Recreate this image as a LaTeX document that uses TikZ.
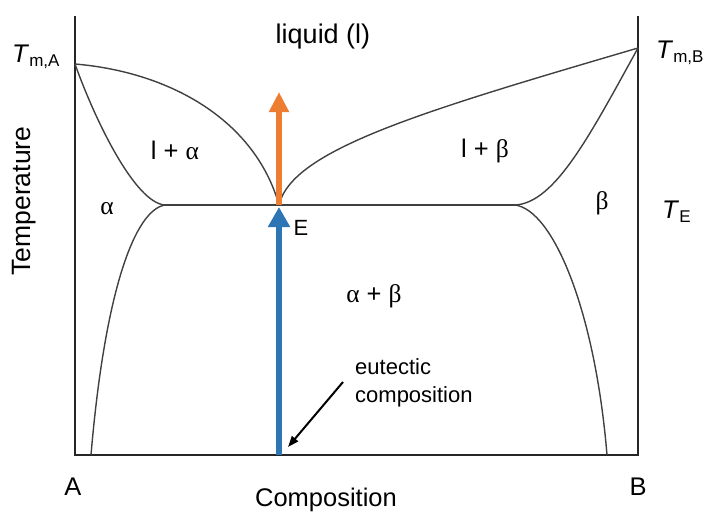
\documentclass[tikz,border=0pt]{standalone}
\usepackage{fontspec}
\setmainfont{Liberation Sans}
\newfontfamily\grk{Liberation Serif}
\usepackage{tikz}
\usetikzlibrary{arrows.meta,positioning,calc}
\definecolor{eublue}{HTML}{2E75B6}
\definecolor{euorange}{HTML}{ED7D31}

% subscripted temperature label
\newcommand{\Tlab}[1]{\textit{T}\raisebox{-0.35ex}{\fontsize{17}{17}\selectfont #1}}

\begin{document}
\begin{tikzpicture}[x=1pt,y=-1pt,
    lbl/.style={font=\fontsize{25.5}{30}\selectfont},
    small/.style={font=\fontsize{22}{28}\selectfont},
    axisline/.style={line width=2.6pt,black!85},
    phaseline/.style={line width=1.4pt,black!75},
    heat/.style={line width=6pt,euorange,-{Triangle[length=20pt,width=19pt]}},
    cool/.style={line width=6pt,eublue,-{Triangle[length=20pt,width=21pt]}}]
  \useasboundingbox (0,0) rectangle (705,515);
  % corners and invariant points
  \coordinate (TL) at (75,16);
  \coordinate (TR) at (638,16);
  \coordinate (BL) at (75,455);
  \coordinate (BR) at (638,455);
  \coordinate (TmA) at (75,64);
  \coordinate (TmB) at (638,48);
  \coordinate (E) at (279,205);
  \coordinate (aE) at (165,205);
  \coordinate (bE) at (515,205);
  \coordinate (xE) at (279,455);
  \coordinate (top) at (279,92);
  % frame
  \draw[axisline] (TL) -- (BL) -- (BR) -- (TR);
  % liquidus
  \draw[phaseline] (TmA) .. controls (170,72) and (255,120) .. (E);
  \draw[phaseline] (E) .. controls (292,150) and (420,112) .. (TmB);
  % solidus
  \draw[phaseline] (TmA) .. controls (95,120) and (135,203) .. (aE);
  \draw[phaseline] (TmB) .. controls (590,135) and (555,203) .. (bE);
  % solvus
  \draw[phaseline] (aE) .. controls (135,210) and (105,290) .. (91,455);
  \draw[phaseline] (bE) .. controls (553,210) and (595,310) .. (607,455);
  % eutectic line
  \draw[phaseline] (aE) -- (bE);
  % arrows through E
  \draw[heat] (E) -- (top);
  \draw[cool] (xE) -- ([yshift=-2pt]E);
  % labels
  \node[lbl,font=\fontsize{27}{30}\selectfont] (liq) at (323,37) {liquid (l)};
  \node[lbl] (la) at (175,150) {l + {\grk α}};
  \node[lbl] (lb) at (485,151) {l + {\grk β}};
  \node[lbl] (alpha) at (107,209) {\grk α};
  \node[lbl] (beta) at (602,203) {\grk β};
  \node[lbl] (ab) at (374,296) {{\grk α} + {\grk β}};
  \node[small] (Elab) at (301,228) {E};
  \node[small,anchor=base west,align=left,inner sep=0pt] (eut) at (355,402)
    {eutectic\\composition};
  \coordinate (pfrom) at (343,382);
  \coordinate (pto) at (288,447);
  \draw[line width=2pt,-{Triangle[length=11pt,width=8pt]}] (pfrom) -- (pto);
  \node[lbl,anchor=base west,inner sep=0pt] (tma) at (12,62) {\Tlab{m,A}};
  \node[lbl,anchor=base west,inner sep=0pt] (tmb) at (656,58) {\Tlab{m,B}};
  \node[lbl,anchor=base west,inner sep=0pt] (te) at (662,218) {\Tlab{E}};
  \node[lbl,rotate=90,font=\fontsize{26.5}{30}\selectfont] (temp) at (24,201) {Temperature};
  \node[lbl] (A) at (73,487) {A};
  \node[lbl] (B) at (638,487) {B};
  \node[lbl] (comp) at (326,500) {Composition};
\end{tikzpicture}
\end{document}
